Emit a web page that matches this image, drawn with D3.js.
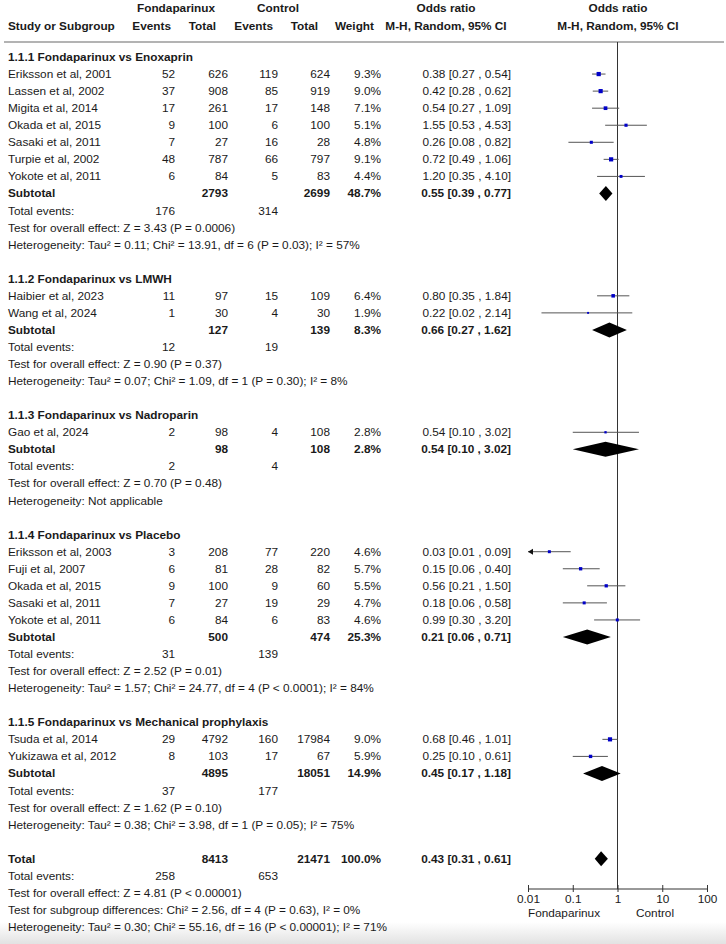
<!DOCTYPE html>
<html lang="en">
<head>
  <meta charset="UTF-8">
  <title>Forest plot</title>
  <style>
    body { margin: 0; background: #fff; }
    svg text { font-family: "Liberation Sans", Arial, sans-serif; font-size: 11.8px; fill: #1a1a1a; }
    .b { font-weight: bold; }
  </style>
</head>
<body>
  <svg id="chart" width="726" height="944"></svg>
  <script src="https://d3js.org/d3.v7.min.js"></script>
  <script>
    // subgroup titles
    const subgroups = [
      "1.1.1 Fondaparinux vs Enoxaprin",
      "1.1.2 Fondaparinux vs LMWH",
      "1.1.3 Fondaparinux vs Nadroparin",
      "1.1.4 Fondaparinux vs Placebo",
      "1.1.5 Fondaparinux vs Mechanical prophylaxis"
    ];

    // study rows: group, name, fonda events, fonda total, control events, control total, weight, OR, lower, upper
    const studies = [
      [0, "Eriksson et al, 2001", 52, 626, 119, 624, 9.3, 0.38, 0.27, 0.54],
      [0, "Lassen et al, 2002", 37, 908, 85, 919, 9.0, 0.42, 0.28, 0.62],
      [0, "Migita et al, 2014", 17, 261, 17, 148, 7.1, 0.54, 0.27, 1.09],
      [0, "Okada et al, 2015", 9, 100, 6, 100, 5.1, 1.55, 0.53, 4.53],
      [0, "Sasaki et al, 2011", 7, 27, 16, 28, 4.8, 0.26, 0.08, 0.82],
      [0, "Turpie et al, 2002", 48, 787, 66, 797, 9.1, 0.72, 0.49, 1.06],
      [0, "Yokote et al, 2011", 6, 84, 5, 83, 4.4, 1.20, 0.35, 4.10],
      [1, "Haibier et al, 2023", 11, 97, 15, 109, 6.4, 0.80, 0.35, 1.84],
      [1, "Wang et al, 2024", 1, 30, 4, 30, 1.9, 0.22, 0.02, 2.14],
      [2, "Gao et al, 2024", 2, 98, 4, 108, 2.8, 0.54, 0.10, 3.02],
      [3, "Eriksson et al, 2003", 3, 208, 77, 220, 4.6, 0.03, 0.01, 0.09],
      [3, "Fuji et al, 2007", 6, 81, 28, 82, 5.7, 0.15, 0.06, 0.40],
      [3, "Okada et al, 2015", 9, 100, 9, 60, 5.5, 0.56, 0.21, 1.50],
      [3, "Sasaki et al, 2011", 7, 27, 19, 29, 4.7, 0.18, 0.06, 0.58],
      [3, "Yokote et al, 2011", 6, 84, 6, 83, 4.6, 0.99, 0.30, 3.20],
      [4, "Tsuda et al, 2014", 29, 4792, 160, 17984, 9.0, 0.68, 0.46, 1.01],
      [4, "Yukizawa et al, 2012", 8, 103, 17, 67, 5.9, 0.25, 0.10, 0.61]
    ];

    // subtotals: fonda total, control total, weight, OR, lower, upper, fonda events, control events
    const subtotals = [
      [2793, 2699, 48.7, 0.55, 0.39, 0.77, 176, 314],
      [127, 139, 8.3, 0.66, 0.27, 1.62, 12, 19],
      [98, 108, 2.8, 0.54, 0.10, 3.02, 2, 4],
      [500, 474, 25.3, 0.21, 0.06, 0.71, 31, 139],
      [4895, 18051, 14.9, 0.45, 0.17, 1.18, 37, 177]
    ];

    const effectTests = [
      "Test for overall effect: Z = 3.43 (P = 0.0006)",
      "Test for overall effect: Z = 0.90 (P = 0.37)",
      "Test for overall effect: Z = 0.70 (P = 0.48)",
      "Test for overall effect: Z = 2.52 (P = 0.01)",
      "Test for overall effect: Z = 1.62 (P = 0.10)"
    ];
    const hetTests = [
      "Heterogeneity: Tau² = 0.11; Chi² = 13.91, df = 6 (P = 0.03); I² = 57%",
      "Heterogeneity: Tau² = 0.07; Chi² = 1.09, df = 1 (P = 0.30); I² = 8%",
      "Heterogeneity: Not applicable",
      "Heterogeneity: Tau² = 1.57; Chi² = 24.77, df = 4 (P < 0.0001); I² = 84%",
      "Heterogeneity: Tau² = 0.38; Chi² = 3.98, df = 1 (P = 0.05); I² = 75%"
    ];

    const overall = [8413, 21471, 100.0, 0.43, 0.31, 0.61, 258, 653];
    const overallNotes = [
      "Test for overall effect: Z = 4.81 (P < 0.00001)",
      "Test for subgroup differences: Chi² = 2.56, df = 4 (P = 0.63), I² = 0%",
      "Heterogeneity: Tau² = 0.30; Chi² = 55.16, df = 16 (P < 0.00001); I² = 71%"
    ];

    const axisTicks = [0.01, 0.1, 1, 10, 100];
    const favours = ["Fondaparinux", "Control"];

    // build the row list
    const rows = [];
    subgroups.forEach((title, g) => {
      rows.push({ type: "head", label: title });
      studies.filter(s => s[0] === g).forEach(s => rows.push({ type: "study", d: s }));
      rows.push({ type: "sub", label: "Subtotal", d: subtotals[g] });
      rows.push({ type: "events", d: subtotals[g] });
      rows.push({ type: "note", label: effectTests[g] });
      rows.push({ type: "note", label: hetTests[g] });
      rows.push({ type: "blank" });
    });
    rows.push({ type: "sub", label: "Total", d: overall });
    rows.push({ type: "events", d: overall });
    overallNotes.forEach(n => rows.push({ type: "note", label: n }));

    const svg = d3.select("#chart");
    const y = d3.scaleLinear().domain([0, rows.length - 1]).range([57, 927]);
    const x = d3.scaleLog().domain([0.01, 100]).range([528, 707]);
    const sq = d3.scaleSqrt().domain([0, 10]).range([0, 4.4]);
    const axisY = 889;

    // faint shadow at the bottom of the picture
    const grad = svg.append("defs").append("linearGradient")
      .attr("id", "shade").attr("x1", 0).attr("x2", 0).attr("y1", 0).attr("y2", 1);
    grad.append("stop").attr("offset", 0).attr("stop-color", "#fff");
    grad.append("stop").attr("offset", 1).attr("stop-color", "#e2e2e2");
    svg.append("rect").attr("x", 0).attr("y", 922).attr("width", 726).attr("height", 22)
      .attr("fill", "url(#shade)");

    const col = { ev1: 175, n1: 228, ev2: 278, n2: 330, w: 381, ci: 511 };
    const fmtCI = (o, l, h) => `${o.toFixed(2)} [${l.toFixed(2)} , ${h.toFixed(2)}]`;

    // header
    const hdr = svg.append("g").attr("class", "b");
    hdr.append("text").attr("x", 176).attr("y", 12).attr("text-anchor", "middle").text("Fondaparinux");
    hdr.append("text").attr("x", 278).attr("y", 12).attr("text-anchor", "middle").text("Control");
    hdr.append("text").attr("x", 446).attr("y", 12).attr("text-anchor", "middle").text("Odds ratio");
    hdr.append("text").attr("x", 618).attr("y", 12).attr("text-anchor", "middle").text("Odds ratio");
    hdr.append("text").attr("x", 8).attr("y", 30).text("Study or Subgroup");
    hdr.append("text").attr("x", 171).attr("y", 30).attr("text-anchor", "end").text("Events");
    hdr.append("text").attr("x", 216).attr("y", 30).attr("text-anchor", "end").text("Total");
    hdr.append("text").attr("x", 273).attr("y", 30).attr("text-anchor", "end").text("Events");
    hdr.append("text").attr("x", 318).attr("y", 30).attr("text-anchor", "end").text("Total");
    hdr.append("text").attr("x", 374).attr("y", 30).attr("text-anchor", "end").text("Weight");
    hdr.append("text").attr("x", 446).attr("y", 30).attr("text-anchor", "middle").text("M-H, Random, 95% CI");
    hdr.append("text").attr("x", 618).attr("y", 30).attr("text-anchor", "middle").text("M-H, Random, 95% CI");

    svg.append("line").attr("x1", 4).attr("x2", 724).attr("y1", 42).attr("y2", 42)
      .attr("stroke", "#9a9a9a").attr("stroke-width", 1.6);

    // null line
    svg.append("line").attr("x1", x(1)).attr("x2", x(1)).attr("y1", 42).attr("y2", axisY)
      .attr("stroke", "#333").attr("stroke-width", 1);

    const txt = (g, xx, yy, s, anchor, bold) => g.append("text")
      .attr("x", xx).attr("y", yy).attr("text-anchor", anchor || "start")
      .attr("class", bold ? "b" : null).text(s);

    const body = svg.append("g");
    rows.forEach((r, i) => {
      const cy = y(i), by = cy + 4;
      if (r.type === "head") txt(body, 8, by, r.label, "start", true);
      else if (r.type === "note") txt(body, 8, by, r.label);
      else if (r.type === "study") {
        const d = r.d;
        txt(body, 8, by, d[1]);
        txt(body, col.ev1, by, d[2], "end");
        txt(body, col.n1, by, d[3], "end");
        txt(body, col.ev2, by, d[4], "end");
        txt(body, col.n2, by, d[5], "end");
        txt(body, col.w, by, d[6].toFixed(1) + "%", "end");
        txt(body, col.ci, by, fmtCI(d[7], d[8], d[9]), "end");
        const lo = Math.max(d[8], 0.01);
        body.append("line").attr("x1", x(lo)).attr("x2", x(d[9])).attr("y1", cy).attr("y2", cy)
          .attr("stroke", "#555").attr("stroke-width", 1);
        if (d[8] <= 0.01) {
          body.append("path")
            .attr("d", `M${x(0.01)},${cy}l5,-3v6z`)
            .attr("fill", "#111");
        }
        const s = sq(d[6]);
        body.append("rect").attr("x", x(d[7]) - s / 2).attr("y", cy - s / 2)
          .attr("width", s).attr("height", s).attr("fill", "#0000c8");
      } else if (r.type === "sub") {
        const d = r.d;
        txt(body, 8, by, r.label, "start", true);
        txt(body, col.n1, by, d[0], "end", true);
        txt(body, col.n2, by, d[1], "end", true);
        txt(body, col.w, by, d[2].toFixed(1) + "%", "end", true);
        txt(body, col.ci, by, fmtCI(d[3], d[4], d[5]), "end", true);
        const h = 7.5;
        body.append("path")
          .attr("d", `M${x(d[4])},${cy}L${x(d[3])},${cy - h}L${x(d[5])},${cy}L${x(d[3])},${cy + h}Z`)
          .attr("fill", "#000");
      } else if (r.type === "events") {
        txt(body, 8, by, "Total events:");
        txt(body, col.ev1, by, r.d[6], "end");
        txt(body, col.ev2, by, r.d[7], "end");
      }
    });

    // axis
    const axis = d3.axisBottom(x).tickValues(axisTicks).tickFormat(d => d).tickSize(3).tickPadding(3);
    const ag = svg.append("g").attr("transform", `translate(0,${axisY})`).call(axis);
    ag.select(".domain").attr("stroke", "#333").attr("d", `M${x(0.01)},0H${x(100)}`);
    ag.selectAll(".tick line").attr("y1", -4).attr("y2", 3).attr("stroke", "#333");
    ag.selectAll(".tick text").style("font-size", "11.8px").style("font-family", "Liberation Sans, Arial, sans-serif").attr("fill", "#1a1a1a");

    txt(svg, 564, 917, favours[0], "middle");
    txt(svg, 655, 917, favours[1], "middle");
  </script>
</body>
</html>
